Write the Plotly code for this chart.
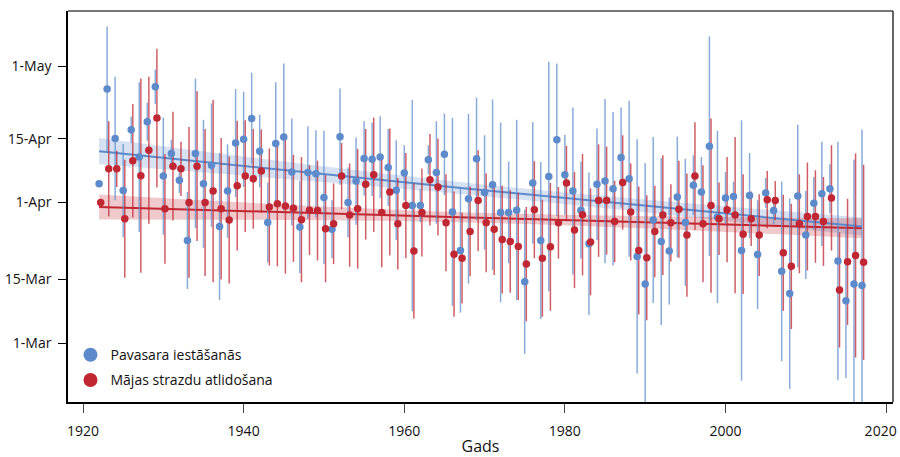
import plotly.graph_objects as go

# ---------------- data (day of year, non-leap) ----------------
years = list(range(1922, 2018))

spring_doy = [95.1, 116.0, 105.1, 93.6, 107.0, 101.0, 108.8, 116.5, 96.8, 101.8,
              95.9, 82.6, 101.8, 95.1, 99.2, 85.7, 93.5, 104.1, 104.9, 109.5,
              102.3, 86.6, 104.0, 105.4, 97.7, 85.6, 97.6, 97.3, 92.1, 85.1,
              105.5, 91.0, 95.7, 100.7, 100.5, 101.0, 98.7, 93.7, 97.5, 90.3,
              90.3, 100.4, 97.6, 101.6, 88.9, 80.4, 91.8, 100.6, 93.2, 94.9,
              88.8, 88.8, 89.3, 73.5, 95.3, 82.6, 96.7, 104.8, 97.1, 93.5,
              89.3, 81.9, 95.0, 95.7, 94.0, 100.9, 96.2, 79.1, 73.0, 87.1,
              82.4, 80.3, 92.2, 86.6, 94.8, 93.3, 103.4, 87.8, 92.0, 92.3,
              80.4, 92.5, 79.5, 93.1, 89.2, 75.8, 70.9, 92.4, 83.8, 90.8,
              92.9, 94.0, 78.1, 69.3, 73.0, 72.7]
spring_err = [0.0, 13.8, 13.6, 10.3, 2.9, 16.5, 4.2, 3.8, 12.9, 3.0,
              2.9, 10.7, 16.5, 14.1, 13.6, 16.2, 10.3, 11.9, 10.5, 10.1,
              8.0, 8.8, 13.5, 16.2, 11.8, 10.2, 10.2, 9.6, 14.7, 6.4,
              10.6, 7.7, 9.6, 8.2, 8.1, 9.0, 8.5, 11.0, 6.1, 23.3,
              3.7, 3.2, 11.3, 9.0, 20.7, 13.7, 18.7, 13.5, 12.6, 18.8,
              19.8, 11.2, 19.9, 15.9, 13.4, 17.3, 25.3, 16.8, 8.8, 18.4,
              10.7, 15.7, 12.3, 18.1, 16.9, 11.0, 17.2, 25.8, 26.7, 18.3,
              18.4, 11.8, 13.3, 14.0, 6.6, 7.7, 24.2, 19.0, 5.7, 3.3,
              28.7, 9.4, 12.0, 3.3, 3.0, 19.8, 21.0, 15.7, 9.7, 5.8,
              11.5, 5.4, 26.3, 17.0, 27.4, 34.4]

starling_doy = [91.0, 98.4, 98.4, 87.4, 100.2, 96.9, 102.5, 109.6, 89.6, 99.0,
                98.4, 91.0, 99.0, 91.0, 93.5, 89.6, 87.1, 94.7, 96.8, 96.2,
                97.9, 90.0, 90.7, 90.2, 89.7, 87.2, 89.3, 89.2, 85.2, 86.3,
                96.8, 88.2, 89.6, 95.0, 97.1, 88.8, 93.3, 86.3, 90.3, 80.3,
                88.8, 96.0, 94.4, 86.5, 79.6, 78.7, 84.6, 91.4, 86.5, 85.1,
                82.8, 82.4, 81.3, 77.4, 89.4, 78.7, 81.2, 86.5, 95.3, 84.9,
                88.3, 82.3, 91.4, 91.4, 86.8, 95.4, 88.9, 80.4, 78.8, 84.6,
                88.2, 86.5, 89.5, 83.8, 96.8, 86.3, 90.3, 87.4, 89.4, 88.2,
                84.0, 87.4, 83.8, 91.6, 91.4, 79.9, 76.9, 86.3, 87.9, 87.9,
                86.8, 92.0, 71.7, 77.9, 79.3, 77.8]
starling_err = [0.0, 10.5, 4.0, 13.0, 12.5, 21.4, 16.2, 15.3, 12.1, 12.0,
                6.0, 16.6, 16.5, 16.2, 20.1, 15.6, 14.0, 14.3, 12.3, 11.0,
                9.2, 12.9, 13.8, 14.9, 11.8, 13.8, 9.9, 11.0, 11.8, 8.9,
                7.3, 11.4, 13.2, 12.2, 12.6, 12.1, 14.0, 10.1, 11.6, 14.9,
                9.7, 10.1, 10.7, 10.7, 13.8, 10.0, 9.9, 11.1, 10.9, 10.1,
                11.9, 11.3, 11.8, 12.6, 10.7, 12.9, 14.1, 7.9, 8.2, 12.8,
                13.4, 11.8, 12.4, 11.9, 9.0, 10.4, 10.7, 14.1, 13.8, 10.1,
                13.2, 8.5, 10.7, 13.6, 11.9, 12.9, 19.2, 8.0, 11.6, 17.2,
                13.2, 6.0, 9.0, 6.3, 4.3, 12.8, 13.8, 10.9, 11.9, 10.2,
                9.8, 11.6, 12.7, 13.9, 22.5, 21.5]

# fitted trends (start, middle, end)
trend_years = [1922, 1968, 2017]
spring_trend = [102.3, 94.0, 85.7]
spring_band = [2.9, 1.3, 2.0]
starling_trend = [90.0, 87.7, 85.3]
starling_band = [2.75, 1.1, 2.2]

y_tick_vals = [60, 74, 91, 105, 121]
y_tick_text = ["1-Mar", "15-Mar", "1-Apr", "15-Apr", "1-May"]
x_tick_vals = [1920, 1940, 1960, 1980, 2000, 2020]
x_tick_text = ["1920", "1940", "1960", "1980", "2000", "2020\u00a0\u00a0\u00a0"]

series_names = ["Pavasara iestāšanās", "Mājas strazdu atlidošana"]

# ---------------- styles ----------------
BLUE = "rgb(92,138,202)"
RED = "rgb(192,39,50)"
BLUE_BAR = "rgba(92,138,202,0.72)"
RED_BAR = "rgba(192,39,50,0.75)"
BLUE_FILL = "rgba(92,138,202,0.25)"
RED_FILL = "rgba(192,39,50,0.25)"
RED_OFFSET = 0.2
FONT = "Open Sans"

red_x = [y + RED_OFFSET for y in years]

fig = go.Figure()

# confidence bands
for tr, bw, fillc in [(spring_trend, spring_band, BLUE_FILL),
                      (starling_trend, starling_band, RED_FILL)]:
    lo = [t - b for t, b in zip(tr, bw)]
    hi = [t + b for t, b in zip(tr, bw)]
    fig.add_trace(go.Scatter(x=trend_years, y=lo, mode="lines",
                             line=dict(width=0, shape="spline"),
                             showlegend=False, hoverinfo="skip"))
    fig.add_trace(go.Scatter(x=trend_years, y=hi, mode="lines",
                             line=dict(width=0, shape="spline"),
                             fill="tonexty", fillcolor=fillc,
                             showlegend=False, hoverinfo="skip"))

# trend lines
fig.add_trace(go.Scatter(x=trend_years, y=spring_trend, mode="lines",
                         line=dict(color=BLUE, width=2, shape="spline"),
                         showlegend=False, hoverinfo="skip"))
fig.add_trace(go.Scatter(x=trend_years, y=starling_trend, mode="lines",
                         line=dict(color=RED, width=2, shape="spline"),
                         showlegend=False, hoverinfo="skip"))

# error bars
fig.add_trace(go.Scatter(x=years, y=spring_doy, mode="markers",
                         marker=dict(size=1, color="rgba(0,0,0,0)"),
                         error_y=dict(type="data", array=spring_err, symmetric=True,
                                      width=0, thickness=1.5, color=BLUE_BAR),
                         showlegend=False, hoverinfo="skip"))
fig.add_trace(go.Scatter(x=red_x, y=starling_doy, mode="markers",
                         marker=dict(size=1, color="rgba(0,0,0,0)"),
                         error_y=dict(type="data", array=starling_err, symmetric=True,
                                      width=0, thickness=1.5, color=RED_BAR),
                         showlegend=False, hoverinfo="skip"))

# points
fig.add_trace(go.Scatter(x=years, y=spring_doy, mode="markers",
                         marker=dict(size=7.5, color=BLUE),
                         name=series_names[0], showlegend=False))
fig.add_trace(go.Scatter(x=red_x, y=starling_doy, mode="markers",
                         marker=dict(size=7.5, color=RED),
                         name=series_names[1], showlegend=False))

# legend entries
fig.add_trace(go.Scatter(x=[None], y=[None], mode="markers",
                         marker=dict(size=14, color=BLUE), name=series_names[0],
                         legendgroup="a"))
fig.add_trace(go.Scatter(x=[None], y=[None], mode="markers",
                         marker=dict(size=14, color=RED), name=series_names[1],
                         legendgroup="b"))

fig.update_layout(
    width=900, height=457,
    margin=dict(l=68, r=7, t=11, b=55, autoexpand=False),
    paper_bgcolor="white", plot_bgcolor="white",
    font=dict(family=FONT, size=14, color="#111"),
    legend=dict(x=0.003, y=0.015, xanchor="left", yanchor="bottom",
                bgcolor="rgba(0,0,0,0)", tracegroupgap=4,
                font=dict(family=FONT, size=14, color="#111")),
    xaxis=dict(range=[1918.13, 2020.86], tickvals=x_tick_vals, ticktext=x_tick_text,
               ticks="outside", ticklen=9, tickwidth=1.3, tickcolor="#444",
               showline=True, linecolor="black", linewidth=1.5, mirror=False,
               showgrid=False, zeroline=False, ticklabelstandoff=6,
               ticklabeloverflow="allow",
               automargin=False, tickfont=dict(size=14),
               title=dict(text="Gads", font=dict(size=16), standoff=6)),
    yaxis=dict(range=[47.0, 133.2], tickvals=y_tick_vals, ticktext=y_tick_text,
               ticks="outside", ticklen=8, tickwidth=1.3, tickcolor="black",
               showline=True, linecolor="black", linewidth=1.5,
               showgrid=False, zeroline=False, ticklabelstandoff=4,
               automargin=False, tickfont=dict(size=14)),
    shapes=[
        dict(type="line", xref="paper", yref="paper", x0=0, x1=1, y0=1, y1=1,
             line=dict(color="#777", width=2)),
        dict(type="line", xref="paper", yref="paper", x0=1, x1=1, y0=0, y1=1,
             line=dict(color="#333", width=1.5)),
    ],
)

fig.write_html("out.html", config={"displayModeBar": False},
               post_script="document.body.style.margin='0';")
